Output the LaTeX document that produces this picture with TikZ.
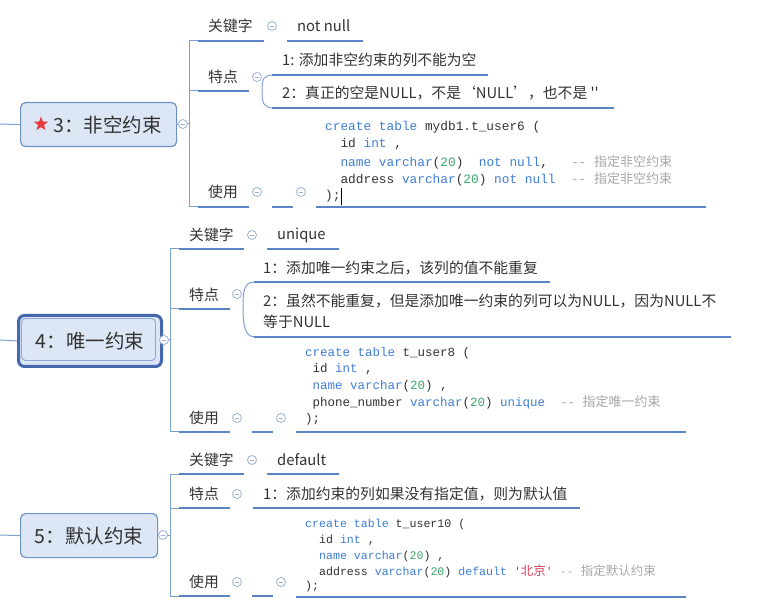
\documentclass[tikz,border=0pt]{standalone}
\usepackage{fontspec}
\usetikzlibrary{shapes.geometric}
\newfontfamily\cjk{Noto Sans CJK SC}
\newfontfamily\code{Liberation Mono}
\definecolor{ulblue}{HTML}{5B84C4}
\definecolor{lnblue}{HTML}{7F9FCF}
\definecolor{cbord}{HTML}{9DB2D3}
\definecolor{boxfill}{HTML}{DCE6F4}
\definecolor{boxline}{HTML}{6F92C9}
\definecolor{selline}{HTML}{4467AE}
\definecolor{txt}{HTML}{333333}
\definecolor{kwc}{HTML}{3F7ED6}
\definecolor{numc}{HTML}{3AA86B}
\definecolor{strc}{HTML}{D9445B}
\definecolor{cmc}{HTML}{A8A8A8}
\definecolor{starred}{HTML}{E63B3F}
\newcommand\kw[1]{\textcolor{kwc}{#1}}
\newcommand\nm[1]{\textcolor{numc}{#1}}
\newcommand\cmt[1]{\textcolor{cmc}{#1}}
\newcommand\zh[1]{{\cjk\fontsize{13}{13}\selectfont #1}}
\tikzset{
  lbl/.style={anchor=west, inner sep=0pt, text=txt, font=\cjk\fontsize{14.8}{17}\selectfont},
  codeA/.style={anchor=west, inner sep=0pt, text=txt, font=\code\fontsize{12.8}{15}\selectfont},
  codeB/.style={anchor=west, inner sep=0pt, text=txt, font=\code\fontsize{12.5}{15}\selectfont},
  codeC/.style={anchor=west, inner sep=0pt, text=txt, font=\code\fontsize{11.6}{14}\selectfont},
  ul/.style={draw=ulblue, line width=2.2pt},
  conn/.style={draw=lnblue, line width=1pt},
  col/.style={circle, draw=cbord, line width=0.8pt, minimum size=9pt, inner sep=0pt, fill=white,
    path picture={\draw[cbord, line width=0.8pt] ([xshift=-2.3pt]path picture bounding box.center) -- ([xshift=2.3pt]path picture bounding box.center);}},
  mainbox/.style={rounded corners=5pt, draw=boxline, line width=1.2pt, fill=boxfill, inner sep=0pt,
    anchor=north west, text=txt, font=\cjk\fontsize{19.5}{22}\selectfont},
}
\begin{document}
\begin{tikzpicture}[x=1pt,y=-1pt]
\useasboundingbox (0,0) rectangle (774,609);
\fill[white] (0,0) rectangle (774,609);

% ================= Section 1 =================
\node[mainbox, minimum width=156pt, minimum height=44pt] (m1) at (20,102) {\hspace*{18pt}3：非空约束};
\node[star, star points=5, star point ratio=2.4, fill=starred, draw=none, minimum size=15pt, inner sep=0pt] (s1) at (41,124) {};
\coordinate (l1) at (0,124);
\draw[conn] (l1) -- (m1.west);
\node[col] (c1) at (183,124) {};
\coordinate (v1) at (189,124);
\draw[conn] (m1.east) -- (c1.west);
\draw[conn] (c1.east) -- (v1);
\coordinate (v1t) at (189,41);
\coordinate (v1b) at (189,207);
\draw[conn] (v1t) -- (v1b);
\draw[conn] (v1t) -- (198,41);
\draw[conn] (189,91) -- (198,91);
\draw[conn] (v1b) -- (198,207);

\node[lbl] (k1) at (208,26) {关键字};
\draw[ul] (198,41) -- (264,41);
\node[col] (ck1) at (272,26) {};
\node[lbl] (kv1) at (297,26) {not null};
\draw[ul] (287,41) -- (363,41);

\node[lbl] (t1) at (208,77) {特点};
\draw[ul] (198,91) -- (249,91);
\node[col] (ct1) at (257,77) {};
\coordinate (b1) at (262,91);
\draw[conn] (b1) .. controls (262,78) and (264,75) .. (274,75);
\draw[conn] (b1) .. controls (262,104) and (264,108) .. (274,108);
\node[lbl] (i11) at (282,60) {1: 添加非空约束的列不能为空};
\draw[ul] (272,75) -- (488,75);
\node[lbl] (i12) at (282,93) {2：真正的空是NULL，不是‘NULL’，也不是 ''};
\draw[ul] (272,108) -- (614,108);

\node[lbl] (u1) at (208,192) {使用};
\draw[ul] (198,207) -- (249,207);
\node[col] (cu1) at (257,192) {};
\draw[ul] (272,207) -- (293,207);
\node[col] (cs1) at (301,192) {};
\draw[ul] (316,207) -- (706,207);
\node[codeA] (a1) at (325,127) {\kw{create} \kw{table} mydb1.t\_user6 (};
\node[codeA] (a2) at (325,144.5) {~~id \kw{int} ,};
\node[codeA] (a3) at (325,162) {~~\kw{name} \kw{varchar}(\nm{20})~~\kw{not} \kw{null},~~~\cmt{-- \zh{指定非空约束}}};
\node[codeA] (a4) at (325,179) {~~address \kw{varchar}(\nm{20}) \kw{not} \kw{null}~~\cmt{-- \zh{指定非空约束}}};
\node[codeA] (a5) at (325,196.5) {);};
\draw[black, line width=0.6pt] (341,188) -- (341,205);

% ================= Section 2 =================
\node[rounded corners=6pt, draw=selline, line width=3pt, fill=boxfill, minimum width=143pt, minimum height=51pt, anchor=north west, inner sep=0pt] (m2) at (17,314) {};
\draw[rounded corners=4pt, draw=boxline!80, line width=0.9pt] (21.5,318.5) rectangle (155.5,360.5);
\node[text=txt, font=\cjk\fontsize{19.5}{22}\selectfont, inner sep=0pt] (m2t) at (m2.center) {4：唯一约束};
\coordinate (l2) at (0,340);
\draw[conn] (l2) -- (m2.west);
\node[col] (c2) at (164,340) {};
\coordinate (v2) at (170,340);
\draw[conn] (c2.east) -- (v2);
\coordinate (v2t) at (170,249);
\coordinate (v2b) at (170,432);
\draw[conn] (v2t) -- (v2b);
\draw[conn] (v2t) -- (179,249);
\draw[conn] (170,309) -- (179,309);
\draw[conn] (v2b) -- (179,432);

\node[lbl] (k2) at (189,235) {关键字};
\draw[ul] (179,249) -- (244,249);
\node[col] (ck2) at (252,235) {};
\node[lbl] (kv2) at (277,235) {unique};
\draw[ul] (267,249) -- (339,249);

\node[lbl] (t2) at (189,295) {特点};
\draw[ul] (179,309) -- (230,309);
\node[col] (ct2) at (237,294) {};
\coordinate (b2) at (243,305);
\draw[conn] (b2) .. controls (243,286) and (246,282) .. (256,282);
\draw[conn] (b2) .. controls (243,330) and (246,337) .. (256,337);
\node[lbl] (i21) at (263,268) {1：添加唯一约束之后，该列的值不能重复};
\draw[ul] (254,282) -- (550,282);
\node[lbl, align=left, font=\cjk\fontsize{14.8}{21.5}\selectfont] (i22) at (263,311.5) {2：虽然不能重复，但是添加唯一约束的列可以为NULL，因为NULL不\\等于NULL};
\draw[ul] (254,337) -- (731,337);

\node[lbl] (u2) at (189,418) {使用};
\draw[ul] (179,432) -- (230,432);
\node[col] (cu2) at (237,418) {};
\draw[ul] (252,432) -- (273,432);
\node[col] (cs2) at (281,418) {};
\draw[ul] (296,432) -- (686,432);
\node[codeB] (b21) at (305,353) {\kw{create} \kw{table} t\_user8 (};
\node[codeB] (b22) at (305,369.5) {~id \kw{int} ,};
\node[codeB] (b23) at (305,386) {~\kw{name} \kw{varchar}(\nm{20}) ,};
\node[codeB] (b24) at (305,402.5) {~phone\_number \kw{varchar}(\nm{20}) \kw{unique}~~\cmt{-- \zh{指定唯一约束}}};
\node[codeB] (b25) at (305,419) {);};

% ================= Section 3 =================
\node[mainbox, minimum width=137pt, minimum height=44pt] (m3) at (20,513) {5：默认约束};
\coordinate (l3) at (0,535);
\draw[conn] (l3) -- (m3.west);
\node[col] (c3) at (163,535) {};
\coordinate (v3) at (170,535);
\draw[conn] (m3.east) -- (c3.west);
\draw[conn] (c3.east) -- (v3);
\coordinate (v3t) at (170,474);
\coordinate (v3b) at (170,596);
\draw[conn] (v3t) -- (v3b);
\draw[conn] (v3t) -- (179,474);
\draw[conn] (170,508) -- (179,508);
\draw[conn] (v3b) -- (179,596);

\node[lbl] (k3) at (189,460) {关键字};
\draw[ul] (179,474) -- (244,474);
\node[col] (ck3) at (252,460) {};
\node[lbl] (kv3) at (277,460) {default};
\draw[ul] (267,474) -- (339,474);

\node[lbl] (t3) at (189,494) {特点};
\draw[ul] (179,508) -- (230,508);
\node[col] (ct3) at (237,494) {};
\node[lbl] (i31) at (263,494) {1：添加约束的列如果没有指定值，则为默认值};
\draw[ul] (253,508) -- (580,508);

\node[lbl] (u3) at (189,582) {使用};
\draw[ul] (179,596) -- (230,596);
\node[col] (cu3) at (237,582) {};
\draw[ul] (252,596) -- (273,596);
\node[col] (cs3) at (281,582) {};
\draw[ul] (296,597) -- (686,597);
\node[codeC] (c31) at (305,525) {\kw{create} \kw{table} t\_user10 (};
\node[codeC] (c32) at (305,540.5) {~~id \kw{int} ,};
\node[codeC] (c33) at (305,556) {~~\kw{name} \kw{varchar}(\nm{20}) ,};
\node[codeC] (c34) at (305,571.5) {~~address \kw{varchar}(\nm{20}) \kw{default} \textcolor{strc}{'{\cjk\fontsize{12.5}{12.5}\selectfont 北京}'} \cmt{-- {\cjk\fontsize{12.5}{12.5}\selectfont 指定默认约束}}};
\node[codeC] (c35) at (305,587) {);};
\end{tikzpicture}
\end{document}
